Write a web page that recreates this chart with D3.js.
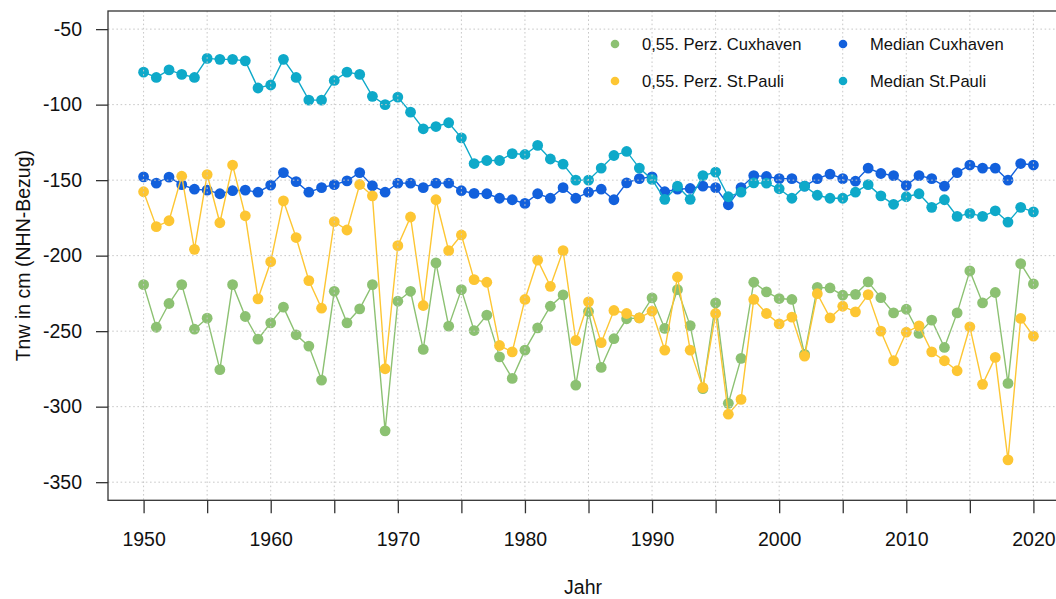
<!DOCTYPE html>

<head>
    <meta charset="utf-8">
    <script src="https://cdn.jsdelivr.net/npm/d3@7"></script>
    <style>
        body {
            margin: 0;
            background: white;
        }

        svg {
            display: block;
            font-family: "Liberation Sans", Arial, Helvetica, sans-serif;
        }

        .axis text {
            font-size: 19.5px;
            fill: #111;
        }

        .axis line {
            stroke: #333;
            stroke-width: 1.3px;
        }

        .legend text {
            font-size: 16.6px;
            fill: #111;
        }
    </style>
</head>

<body>
    <script>
        var years = d3.range(1950, 2021);

        var medianStPauli = [
            -78.5, -82, -77, -80, -82, -69.4, -70, -70, -71, -89,
            -87, -70, -82, -97, -97, -84, -78.5, -80, -94.5, -100,
            -95, -105, -116, -114.5, -112, -122, -139, -137, -137, -132.4,
            -133, -127, -136, -139.4, -150, -150, -142, -133.7, -131, -142,
            -149.5, -162.7, -154, -162.7, -147, -144.7, -161, -158, -151.8, -152,
            -155.7, -162, -154, -160, -162, -162, -158, -153, -160.4, -166,
            -161, -159, -168, -163, -174, -172, -174, -170.3, -177.8, -168,
            -171
        ];

        var medianCuxhaven = [
            -147.8, -152, -148, -153, -156, -156.6, -159, -157, -156.6, -158,
            -153.3, -145, -151, -158, -155, -153, -150.5, -145, -153.7, -158,
            -152, -152, -155, -152, -152, -157, -158.8, -159, -162, -163,
            -165.4, -159, -162, -155, -162, -158, -156, -163, -151.8, -149,
            -147.8, -157.7, -156, -155.5, -154, -155, -166.3, -155, -147, -147.6,
            -149, -149, -154, -149, -146, -149, -150.7, -142, -145.6, -147,
            -153.5, -147, -149, -154, -145, -140, -142, -142, -150, -139,
            -140
        ];

        var perzCuxhaven = [
            -219.2, -247.4, -231.7, -219.2, -248.7, -241.4, -275.5, -219.2, -240.3, -255.3,
            -244.5, -234.1, -252.4, -259.9, -282.4, -223.6, -244.5, -235.2, -219.2, -316,
            -230.2, -223.6, -262.1, -204.8, -246.7, -222.5, -249.6, -239.4, -267, -281.3,
            -262.6, -247.8, -233.5, -226, -285.7, -237, -274, -255, -241.8, -241.2,
            -228, -248.2, -222.5, -246.3, -288.1, -231.3, -297.8, -268, -217.6, -224,
            -228.4, -229, -265.4, -221, -221.4, -226.2, -225.6, -217.4, -227.8, -237.9,
            -235.5, -251.5, -242.7, -260.8, -237.9, -210.1, -231.3, -224.4, -284.6, -205.3,
            -218.7
        ];

        var perzStPauli = [
            -157.7, -180.8, -176.9, -147.4, -195.8, -146.3, -178.2, -140, -173.6, -228.6,
            -204, -163.7, -188, -216.5, -234.8, -177.5, -183, -152.9, -160.4, -274.9,
            -193.4, -174.4, -233, -163, -196.7, -186.3, -215.9, -217.6, -259.5, -263.7,
            -229, -203, -220.3, -196.7, -256.2, -230.6, -257.6, -236.3, -238.3, -241.2,
            -236.8, -262.6, -214.1, -262.6, -287.4, -238.3, -305, -295.2, -229, -238.3,
            -245.2, -240.7, -266.5, -225.2, -241.2, -233.5, -237.2, -225.8, -250, -269.6,
            -250.7, -246.5, -263.7, -269.6, -276.2, -247.1, -285.2, -267.4, -335.2, -241.6,
            -253.3
        ];

        var xTicks = d3.range(1950, 2021, 5);
        var yTicks = [-350, -300, -250, -200, -150, -100, -50];

        var seriesNames = ["0,55. Perz. Cuxhaven", "0,55. Perz. St.Pauli", "Median Cuxhaven", "Median St.Pauli"];
        var seriesColors = ["#8cc172", "#fdc633", "#1260dc", "#0ea9c9"];

        var width = 1056, height = 599;
        var plotLeft = 108, plotRight = 1069, plotTop = 11, plotBottom = 500.3;

        var x = d3.scaleLinear()
            .domain([1947.2, 2022.8])
            .range([plotLeft, plotRight]);

        var y = d3.scaleLinear()
            .domain([-362, -38])
            .range([plotBottom, plotTop]);

        var svg = d3.select("body")
            .append("svg")
            .attr("width", width)
            .attr("height", height);

        // draw order as in the picture: medians first, percentiles on top
        var series = [
            { values: medianCuxhaven, color: seriesColors[2] },
            { values: medianStPauli, color: seriesColors[3] },
            { values: perzCuxhaven, color: seriesColors[0] },
            { values: perzStPauli, color: seriesColors[1] }
        ];

        var line = d3.line()
            .x(function (d, i) { return x(years[i]); })
            .y(function (d) { return y(d); });

        series.forEach(function (s) {
            var g = svg.append("g");
            g.append("path")
                .attr("d", line(s.values))
                .attr("fill", "none")
                .attr("stroke", s.color)
                .attr("stroke-width", 1.4);
            g.selectAll("circle")
                .data(s.values)
                .enter().append("circle")
                .attr("cx", function (d, i) { return x(years[i]); })
                .attr("cy", function (d) { return y(d); })
                .attr("r", 5.4)
                .attr("fill", s.color);
        });

        // grid on top of the data, like grid() after plot()
        var grid = svg.append("g")
            .attr("stroke", "#c8c8c8")
            .attr("stroke-width", 1)
            .attr("stroke-dasharray", "1.6,2.6");

        grid.selectAll(".gx").data(xTicks).enter()
            .append("line")
            .attr("x1", function (d) { return x(d); })
            .attr("x2", function (d) { return x(d); })
            .attr("y1", plotTop)
            .attr("y2", plotBottom);

        grid.selectAll(".gy").data(yTicks).enter()
            .append("line")
            .attr("x1", plotLeft)
            .attr("x2", plotRight)
            .attr("y1", function (d) { return y(d); })
            .attr("y2", function (d) { return y(d); });

        // plain hyphen minus, not the unicode minus d3 uses by default
        var yAxis = d3.axisLeft(y)
            .tickValues(yTicks)
            .tickSize(12)
            .tickPadding(14)
            .tickFormat(function (d) { return String(d); });

        svg.append("g")
            .attr("class", "axis")
            .attr("transform", "translate(" + plotLeft + ",0)")
            .call(yAxis)
            .call(function (g) { g.select(".domain").remove(); });

        var xAxis = d3.axisBottom(x)
            .tickValues(xTicks)
            .tickSize(13)
            .tickPadding(19)
            .tickFormat(function (d) { return d % 10 === 0 ? String(d) : ""; });

        svg.append("g")
            .attr("class", "axis")
            .attr("transform", "translate(0," + plotBottom + ")")
            .call(xAxis)
            .call(function (g) { g.select(".domain").remove(); });

        svg.selectAll(".axis").attr("font-family", null).attr("font-size", null);

        svg.append("rect")
            .attr("x", plotLeft)
            .attr("y", plotTop)
            .attr("width", plotRight - plotLeft)
            .attr("height", plotBottom - plotTop)
            .attr("fill", "none")
            .attr("stroke", "#333")
            .attr("stroke-width", 1.3);

        svg.append("text")
            .attr("x", 583)
            .attr("y", 594)
            .attr("text-anchor", "middle")
            .attr("font-size", "19.5px")
            .attr("fill", "#111")
            .text("Jahr");

        svg.append("text")
            .attr("transform", "translate(30," + ((plotTop + plotBottom) / 2) + ") rotate(-90)")
            .attr("text-anchor", "middle")
            .attr("font-size", "19.5px")
            .attr("fill", "#111")
            .text("Tnw in cm (NHN-Bezug)");

        // legend, two columns, no box
        var legendX = [615, 843];
        var legendY = [44, 81];

        var legend = svg.append("g").attr("class", "legend");
        seriesNames.forEach(function (name, i) {
            var col = Math.floor(i / 2), row = i % 2;
            legend.append("circle")
                .attr("cx", legendX[col])
                .attr("cy", legendY[row])
                .attr("r", 4.3)
                .attr("fill", seriesColors[i]);
            legend.append("text")
                .attr("x", legendX[col] + 27)
                .attr("y", legendY[row] + 6)
                .text(name);
        });
    </script>
</body>
